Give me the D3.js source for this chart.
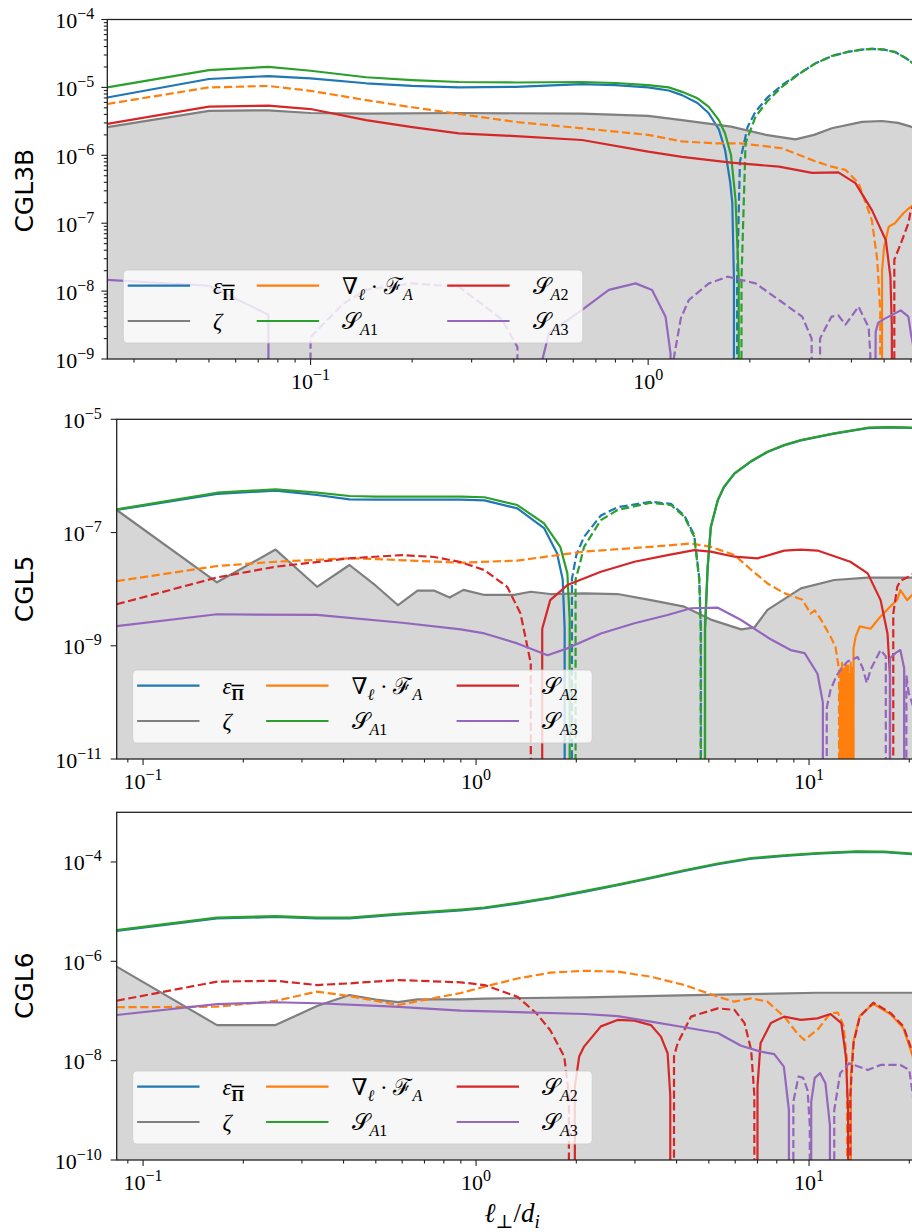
<!DOCTYPE html>
<html><head><meta charset="utf-8">
<script src="https://cdn.jsdelivr.net/npm/d3@7"></script>
<style>body{margin:0;background:#fff}svg{display:block}</style>
</head><body>
<svg id="c" width="912" height="1232"></svg>
<script>
// ---------------- DATA (ℓ⊥/d_i, signed value; negative values drawn dashed as |value|) -------------
const panelNames = ['CGL3B', 'CGL5', 'CGL6'];
const seriesKeys = ['eps', 'zeta', 'div', 'sa1', 'sa2', 'sa3'];

// Panel 1: CGL3B
const p1_xDomain = [0.025, 6.1];
const p1_yDomain = [1e-9, 1e-4];
const p1_xTickExp = [-1, 0];
const p1_yTickExp = [-4, -5, -6, -7, -8, -9];
const p1_eps = [[0.025,7.1e-6],[0.05,1.33e-5],[0.075,1.47e-5],[0.1,1.36e-5],[0.146,1.15e-5],[0.2,1.05e-5],[0.275,1.0e-5],[0.405,1.02e-5],[0.637,1.12e-5],[0.8,1.08e-5],[1.0,1.0e-5],[1.15,9.0e-6],[1.26,7.7e-6],[1.4,5.9e-6],[1.51,4.2e-6],[1.62,2.4e-6],[1.69,1.2e-6],[1.75,4e-7],[1.775,2e-7],[1.795,1.5e-8],[1.835,-1.5e-8],[1.87,-8e-7],[1.97,-2.6e-6],[2.08,-4.4e-6],[2.25,-7e-6],[2.49,-1.08e-5],[2.8,-1.6e-5],[3.13,-2.26e-5],[3.5,-2.9e-5],[3.93,-3.36e-5],[4.3,-3.6e-5],[4.6,-3.7e-5],[5.0,-3.6e-5],[5.4,-3.3e-5],[5.8,-2.7e-5],[6.2,-2.1e-5]];
const p1_zeta = [[0.025,2.6e-6],[0.05,4.5e-6],[0.075,4.6e-6],[0.1,4.2e-6],[0.146,4.1e-6],[0.275,4.2e-6],[0.637,4.1e-6],[1.0,3.8e-6],[1.26,3.3e-6],[1.76,2.64e-6],[2.23,2.0e-6],[2.73,1.72e-6],[3.1,2.0e-6],[3.5,2.5e-6],[4.3,3.1e-6],[4.93,3.2e-6],[5.5,3.0e-6],[6.0,2.64e-6],[6.2,2.5e-6]];
const p1_div = [[0.025,-5.7e-6],[0.05,-1.0e-5],[0.075,-1.05e-5],[0.1,-8.9e-6],[0.146,-6.5e-6],[0.2,-5.1e-6],[0.275,-4.06e-6],[0.405,-3.1e-6],[0.637,-2.5e-6],[1.0,-2.0e-6],[1.26,-1.6e-6],[1.58,-1.5e-6],[1.88,-1.5e-6],[2.49,-1.27e-6],[3.06,-8.5e-7],[3.5,-6.8e-7],[3.84,-6.1e-7],[4.2,-3.9e-7],[4.6,-1.1e-7],[4.77,-2.9e-8],[4.87,-5e-9],[4.93,2e-8],[5.0,4.5e-8],[5.16,8.9e-8],[5.38,1.0e-7],[5.7,1.4e-7],[6.0,1.75e-7],[6.2,1.9e-7]];
const p1_sa1 = [[0.025,1.0e-5],[0.05,1.8e-5],[0.075,2.0e-5],[0.1,1.76e-5],[0.146,1.41e-5],[0.2,1.28e-5],[0.275,1.2e-5],[0.405,1.18e-5],[0.637,1.2e-5],[0.8,1.16e-5],[1.0,1.08e-5],[1.15,1.0e-5],[1.26,8.6e-6],[1.4,6.9e-6],[1.51,5.2e-6],[1.62,3.3e-6],[1.69,2.1e-6],[1.76,1.0e-6],[1.815,2.2e-7],[1.855,1.5e-8],[1.89,-1.5e-8],[1.943,-1.5e-6],[2.08,-3.7e-6],[2.25,-6.2e-6],[2.49,-1.02e-5],[2.8,-1.58e-5],[3.13,-2.26e-5],[3.5,-2.9e-5],[3.93,-3.36e-5],[4.3,-3.6e-5],[4.6,-3.7e-5],[5.0,-3.6e-5],[5.4,-3.3e-5],[5.8,-2.7e-5],[6.2,-2.1e-5]];
const p1_sa2 = [[0.025,2.9e-6],[0.05,5.2e-6],[0.075,5.4e-6],[0.1,4.8e-6],[0.146,3.3e-6],[0.2,2.6e-6],[0.275,2.1e-6],[0.405,1.92e-6],[0.637,1.68e-6],[1.0,1.13e-6],[1.26,9.5e-7],[1.76,7.8e-7],[2.44,6.8e-7],[3.06,5.5e-7],[3.66,5.6e-7],[4.11,3.9e-7],[4.6,1.56e-7],[5.06,5.6e-8],[5.22,1.6e-8],[5.27,3e-9],[5.3,0],[5.36,-2.9e-8],[5.6,-5e-8],[5.9,-1e-7],[6.0,-1.56e-7],[6.2,-2e-7]];
const p1_sa3 = [[0.025,1.46e-8],[0.05,1.2e-8],[0.075,4.5e-9],[0.1,-2.1e-9],[0.125,-6.5e-9],[0.146,-1.05e-8],[0.2,-1.3e-8],[0.275,-1.16e-8],[0.32,-6.6e-9],[0.37,-3.75e-9],[0.41,-1.5e-9],[0.42,1e-10],[0.4745,6e-10],[0.508,2.4e-9],[0.637,5.3e-9],[0.765,1.04e-8],[0.918,1.3e-8],[1.027,1.04e-8],[1.126,4.2e-9],[1.165,1.2e-9],[1.19,-1e-9],[1.25,-4e-9],[1.32,-7.4e-9],[1.513,-1.3e-8],[1.72,-1.63e-8],[2.08,-1.3e-8],[2.44,-7.4e-9],[2.86,-4.2e-9],[3.05,-2e-9],[3.08,1e-10],[3.2,1e-10],[3.23,-2e-9],[3.49,-4.2e-9],[3.66,-4.4e-9],[3.84,-3.2e-9],[4.2,-5.9e-9],[4.5,-2.9e-9],[4.55,-1.2e-9],[4.58,1e-10],[4.7,1e-10],[4.72,2.5e-9],[4.8,3.4e-9],[4.96,3.8e-9],[5.6,5.2e-9],[5.9,4.2e-9],[6.0,2.4e-9],[6.2,1e-9]];

// Panel 2: CGL5
const p2_xDomain = [1/12, 20.6];
const p2_yDomain = [1e-11, 1e-5];
const p2_xTickExp = [-1, 0, 1];
const p2_yTickExp = [-5, -7, -9, -11];
const p2_eps = [[0.0833,2.5e-7],[0.1667,4.8e-7],[0.25,5.5e-7],[0.333,4.6e-7],[0.4167,3.85e-7],[0.5,3.8e-7],[0.9,3.8e-7],[1.06,3.7e-7],[1.33,2.67e-7],[1.6,1.2e-7],[1.75,4.3e-8],[1.82,1.5e-8],[1.845,2e-9],[1.9,0],[1.94,-1.5e-8],[2.0,-4e-8],[2.11,-8.4e-8],[2.37,-2.0e-7],[2.66,-2.8e-7],[3.35,-3.5e-7],[3.85,-3.2e-7],[4.22,-2.0e-7],[4.52,-9e-8],[4.68,-1.6e-8],[4.73,-2e-9],[4.8,0],[4.87,2e-9],[4.96,2.4e-8],[5.07,1.25e-7],[5.32,3.7e-7],[5.55,6.3e-7],[5.97,1.1e-6],[6.7,1.8e-6],[7.5,2.65e-6],[8.4,3.45e-6],[9.45,4.25e-6],[11.9,5.6e-6],[15.0,7.0e-6],[17.5,7.2e-6],[20.6,7.0e-6]];
const p2_zeta = [[0.0833,2.5e-7],[0.1667,1.32e-8],[0.25,5.0e-8],[0.333,1.1e-8],[0.4167,2.67e-8],[0.5,1.15e-8],[0.583,5.2e-9],[0.667,9.4e-9],[0.75,9.4e-9],[0.833,7.1e-9],[0.917,9.7e-9],[1.06,7.9e-9],[1.3,7.9e-9],[1.46,9.0e-9],[1.67,8.2e-9],[2.11,8.4e-9],[2.66,8.2e-9],[3.35,6.4e-9],[4.22,4.9e-9],[5.07,2.9e-9],[6.25,1.95e-9],[6.85,2.1e-9],[7.5,4.3e-9],[9.45,1.03e-8],[11.9,1.45e-8],[15.0,1.6e-8],[20.6,1.6e-8]];
const p2_div = [[0.0833,-1.39e-8],[0.1667,-2.56e-8],[0.25,-3.05e-8],[0.4167,-3.5e-8],[0.5,-3.4e-8],[0.9,-2.93e-8],[1.33,-3.2e-8],[2.11,-4.6e-8],[3.35,-5.6e-8],[4.42,-6.4e-8],[5.07,-5.6e-8],[5.97,-4.0e-8],[6.7,-2.2e-8],[7.5,-1.26e-8],[8.42,-8.5e-9],[9.55,-6.5e-9],[10.1,-3.7e-9],[10.4,-4.2e-9],[10.8,-3.05e-9],[11.6,-1.45e-9],[12.0,-9.6e-10],[12.3,-3.8e-10],[12.38,2e-10],[12.44,-4e-10],[12.5,3e-10],[12.56,-5e-10],[12.62,2.5e-10],[12.68,-3e-10],[12.74,4e-10],[12.8,-2e-10],[12.86,3.5e-10],[12.92,-4.5e-10],[12.98,2e-10],[13.04,-3e-10],[13.1,4.5e-10],[13.16,-2.5e-10],[13.22,3e-10],[13.28,-3.5e-10],[13.34,5e-10],[13.4,-2e-10],[13.46,4e-10],[13.52,-1.5e-10],[13.6,9e-10],[13.8,1.45e-9],[14.2,2.2e-9],[15.3,2.0e-9],[16.4,3.3e-9],[17.5,4.9e-9],[18.4,6.5e-9],[18.8,9.6e-9],[19.7,6.4e-9],[20.6,8.4e-9]];
const p2_sa1 = [[0.0833,2.56e-7],[0.1667,5.05e-7],[0.25,5.8e-7],[0.333,5.06e-7],[0.4167,4.42e-7],[0.5,4.3e-7],[0.9,4.3e-7],[1.06,4.2e-7],[1.33,3.06e-7],[1.6,1.45e-7],[1.79,5.6e-8],[1.88,1.9e-8],[1.91,3e-9],[1.95,0],[1.99,-1.5e-8],[2.04,-2.5e-8],[2.11,-5.6e-8],[2.37,-1.66e-7],[2.66,-2.5e-7],[3.35,-3.36e-7],[3.85,-3.06e-7],[4.22,-1.9e-7],[4.52,-8.4e-8],[4.68,-1.45e-8],[4.73,-2e-9],[4.8,0],[4.87,2e-9],[4.96,2.5e-8],[5.07,1.27e-7],[5.32,3.75e-7],[5.55,6.4e-7],[5.97,1.11e-6],[6.7,1.83e-6],[7.5,2.68e-6],[8.4,3.5e-6],[9.45,4.3e-6],[11.9,5.66e-6],[15.0,7.1e-6],[17.5,7.3e-6],[20.6,7.1e-6]];
const p2_sa2 = [[0.0833,-5.4e-9],[0.1667,-1.61e-8],[0.25,-2.49e-8],[0.4167,-3.5e-8],[0.6,-4.0e-8],[0.75,-3.7e-8],[0.9,-3.0e-8],[1.06,-2.17e-8],[1.24,-1.1e-8],[1.36,-3.7e-9],[1.46,-4.9e-10],[1.5,0],[1.575,0],[1.58,2.0e-9],[1.67,6.4e-9],[1.88,1.18e-8],[2.37,2.03e-8],[2.99,3.05e-8],[3.76,4.0e-8],[4.52,4.9e-8],[5.07,4.6e-8],[5.97,3.74e-8],[7.0,3.5e-8],[8.42,4.8e-8],[9.45,5.0e-8],[10.6,4.8e-8],[13.3,3.05e-8],[15.0,1.9e-8],[16.4,6.4e-9],[17.2,1.65e-9],[17.5,3e-10],[17.6,0],[17.85,0],[17.9,-3.7e-9],[18.4,-1.1e-8],[18.8,-1.4e-8],[19.7,-1.6e-8],[20.6,-1.9e-8]];
const p2_sa3 = [[0.0833,2.23e-9],[0.1667,3.6e-9],[0.333,3.5e-9],[0.6,2.55e-9],[0.9,1.95e-9],[1.06,1.65e-9],[1.33,1.1e-9],[1.64,6.8e-10],[1.88,9e-10],[2.37,1.65e-9],[2.99,2.5e-9],[3.76,3.5e-9],[4.42,4.6e-9],[5.32,4.7e-9],[6.25,2.85e-9],[7.67,1.3e-9],[8.8,8.4e-10],[9.7,7.4e-10],[10.6,3.2e-10],[11.0,1e-10],[11.1,0],[11.25,0],[11.3,-8e-11],[11.6,-1.66e-10],[12.1,-3.0e-10],[13.0,-5.2e-10],[14.0,-6.3e-10],[14.5,-4e-10],[14.9,-2.2e-10],[15.3,-3.8e-10],[16.4,-8.4e-10],[17.0,-6.5e-10],[17.3,0],[17.5,6.0e-10],[18.2,7.5e-10],[18.8,8.4e-10],[19.3,4e-10],[19.5,0],[19.6,-3e-10],[19.9,-1.5e-10],[20.6,-8e-11]];

// Panel 3: CGL6
const p3_xDomain = [1/12, 20.6];
const p3_yDomain = [1e-10, 1e-3];
const p3_xTickExp = [-1, 0, 1];
const p3_yTickExp = [-4, -6, -8, -10];
const p3_eps = [[0.0833,4.1e-6],[0.1667,7.3e-6],[0.25,7.8e-6],[0.333,7.3e-6],[0.4167,7.3e-6],[0.567,8.6e-6],[0.9,1.06e-5],[1.06,1.17e-5],[1.33,1.45e-5],[1.67,1.86e-5],[2.11,2.5e-5],[2.66,3.4e-5],[3.35,4.7e-5],[4.22,6.6e-5],[5.32,9.0e-5],[6.7,1.16e-4],[8.42,1.32e-4],[10.6,1.47e-4],[13.9,1.59e-4],[16.8,1.57e-4],[20.6,1.43e-4]];
const p3_zeta = [[0.0833,7.8e-7],[0.1667,5.2e-8],[0.25,5.2e-8],[0.333,1.26e-7],[0.4167,2.1e-7],[0.5,1.7e-7],[0.583,1.51e-7],[0.667,1.72e-7],[0.9,1.72e-7],[1.06,1.78e-7],[2.11,1.88e-7],[5.32,2.13e-7],[10.6,2.33e-7],[20.6,2.33e-7]];
const p3_div = [[0.0833,-1.19e-7],[0.1667,-1.22e-7],[0.25,-1.6e-7],[0.333,-2.45e-7],[0.4167,-2.0e-7],[0.583,-1.32e-7],[0.9,-2.3e-7],[1.06,-3.08e-7],[1.33,-4.5e-7],[1.67,-5.9e-7],[2.11,-6.45e-7],[2.66,-6.2e-7],[3.35,-4.9e-7],[4.22,-3.33e-7],[5.32,-1.94e-7],[5.97,-1.54e-7],[6.7,-1.8e-7],[7.5,-1.54e-7],[8.42,-7.7e-8],[9.2,-3.6e-8],[9.67,-2.6e-8],[10.6,-4.2e-8],[11.6,-9e-8],[12.2,-9.3e-8],[12.7,-5e-8],[13.0,-1e-8],[13.1,0],[13.3,0],[13.35,5e-9],[13.6,2.5e-8],[14.2,8e-8],[15.6,1.4e-7],[17.6,8.5e-8],[19.2,4.5e-8],[20.5,1.2e-8],[20.8,3e-9]];
const p3_sa1 = [[0.0833,4.24e-6],[0.1667,7.6e-6],[0.25,8.1e-6],[0.333,7.6e-6],[0.4167,7.6e-6],[0.567,8.9e-6],[0.9,1.1e-5],[1.06,1.21e-5],[1.33,1.5e-5],[1.67,1.92e-5],[2.11,2.58e-5],[2.66,3.5e-5],[3.35,4.85e-5],[4.22,6.8e-5],[5.32,9.3e-5],[6.7,1.2e-4],[8.42,1.36e-4],[10.6,1.51e-4],[13.9,1.64e-4],[16.8,1.62e-4],[20.6,1.47e-4]];
const p3_sa2 = [[0.0833,-1.61e-7],[0.1667,-3.9e-7],[0.25,-4.06e-7],[0.333,-3.33e-7],[0.4167,-3.6e-7],[0.583,-4.2e-7],[0.9,-3.77e-7],[1.06,-3.33e-7],[1.33,-1.94e-7],[1.52,-8.9e-8],[1.67,-4.1e-8],[1.84,-1.21e-8],[1.9,-2e-9],[1.93,0],[1.975,0],[1.98,3e-9],[2.04,1.21e-8],[2.11,1.92e-8],[2.37,4.9e-8],[2.66,6.6e-8],[2.99,6.4e-8],[3.35,5.2e-8],[3.59,3.05e-8],[3.76,1.41e-8],[3.83,2e-9],[3.86,0],[3.92,0],[3.93,-1.21e-8],[4.03,-2.24e-8],[4.42,-7.7e-8],[5.32,-1.13e-7],[5.97,-1.05e-7],[6.4,-5.7e-8],[6.7,-1.65e-8],[6.85,-2e-9],[6.9,0],[6.98,0],[7.0,3e-9],[7.15,2.24e-8],[7.68,5.7e-8],[8.42,7.7e-8],[9.45,6.6e-8],[10.6,7.1e-8],[11.6,8.7e-8],[12.5,5.7e-8],[12.9,1.21e-8],[13.1,1e-9],[13.15,0],[13.25,0],[13.3,-2e-9],[13.6,-2.24e-8],[14.2,-7.7e-8],[15.6,-1.47e-7],[17.6,-9e-8],[19.2,-4.9e-8],[20.5,-1.41e-8],[20.8,-3e-9]];
const p3_sa3 = [[0.0833,8.3e-8],[0.1667,1.38e-7],[0.25,1.5e-7],[0.333,1.43e-7],[0.567,1.22e-7],[0.9,1.02e-7],[1.33,9.5e-8],[2.11,8.7e-8],[2.66,7.9e-8],[3.35,6.1e-8],[4.22,4.7e-8],[5.32,3.6e-8],[6.25,2.0e-8],[7.16,1.52e-8],[7.86,1.35e-8],[8.4,7.6e-9],[8.7,1e-9],[8.8,0],[8.9,0],[8.97,-1.5e-9],[9.3,-4.8e-9],[9.6,-4.5e-9],[9.9,-2.5e-9],[10.05,-5e-10],[10.08,0],[10.12,0],[10.15,1.5e-9],[10.4,4.5e-9],[10.8,5.6e-9],[11.2,3.5e-9],[11.55,5e-10],[11.6,0],[11.8,0],[11.9,-1e-9],[12.4,-5.6e-9],[13.2,-8.9e-9],[15.0,-6.5e-9],[16.4,-8.2e-9],[18.8,-8.2e-9],[20.0,-6.5e-9],[20.5,-2e-9],[20.8,-5e-10]];

// ---------------- STYLE / LAYOUT -------------
const colors = {eps:'#1f77b4', zeta:'#7f7f7f', div:'#ff7f0e', sa1:'#2ca02c', sa2:'#d62728', sa3:'#9467bd'};
const FILL = '#d6d6d6';
const LW = 2.2;
const DASH = '8.2,3.6';
const TINY = 1e-300;
const SERIF = "'Liberation Serif','DejaVu Serif',serif";
const layout = [
  {left:107.3, top:19.5, bottom:359, ppd:337.6, labelY:190.7, gap:13, minorY:true},
  {left:116.7, top:419.3, bottom:759, ppd:333, labelY:589, gap:15, minorY:false},
  {left:116.7, top:812.3, bottom:1160, ppd:333, labelY:985.7, gap:15, minorY:false}
];
const panels = [
  {xDomain:p1_xDomain, yDomain:p1_yDomain, xt:p1_xTickExp, yt:p1_yTickExp, series:{eps:p1_eps, zeta:p1_zeta, div:p1_div, sa1:p1_sa1, sa2:p1_sa2, sa3:p1_sa3}},
  {xDomain:p2_xDomain, yDomain:p2_yDomain, xt:p2_xTickExp, yt:p2_yTickExp, series:{eps:p2_eps, zeta:p2_zeta, div:p2_div, sa1:p2_sa1, sa2:p2_sa2, sa3:p2_sa3}},
  {xDomain:p3_xDomain, yDomain:p3_yDomain, xt:p3_xTickExp, yt:p3_yTickExp, series:{eps:p3_eps, zeta:p3_zeta, div:p3_div, sa1:p3_sa1, sa2:p3_sa2, sa3:p3_sa3}}
];
// legend labels as rich-text parts: [text, flags]
const legendLabels = {
  eps: [['ε','it'], ['Π','sub bold over']],
  zeta: [['ζ','it']],
  div: [['∇',''], ['ℓ','sub it'], [' · ',''], ['ℱ',''], ['A','sub it']],
  sa1: [['𝒮',''], ['A','sub it'], ['1','sub']],
  sa2: [['𝒮',''], ['A','sub it'], ['2','sub']],
  sa3: [['𝒮',''], ['A','sub it'], ['3','sub']]
};
const legendPos = {eps:[0,0], zeta:[0,1], div:[1,0], sa1:[1,1], sa2:[2,0], sa3:[2,1]};

const svg = d3.select('#c');

function rich(textSel, parts, fs, subFs, subDy) {
  let cur = 0;
  parts.forEach(([t, f]) => {
    const fl = f.split(' ');
    const isSub = fl.includes('sub');
    const target = isSub ? subDy : 0;
    const ts = textSel.append('tspan').text(t)
      .attr('dy', target - cur)
      .attr('font-size', isSub ? subFs : fs)
      .attr('font-style', fl.includes('it') ? 'italic' : 'normal')
      .attr('font-weight', fl.includes('bold') ? 'bold' : 'normal');
    if (fl.includes('over')) ts.attr('text-decoration', 'overline');
    cur = target;
  });
}

function supLabel(sel, exp, fs, supFs) {
  sel.append('tspan').text('10').attr('font-size', fs);
  sel.append('tspan').text(exp < 0 ? '\u2212' + (-exp) : String(exp)).attr('font-size', supFs).attr('dy', -9);
}

panels.forEach((P, i) => {
  const L = layout[i];
  const right = L.left + L.ppd * Math.log10(P.xDomain[1] / P.xDomain[0]);
  const x = d3.scaleLog().domain(P.xDomain).range([L.left, right]);
  const y = d3.scaleLog().domain(P.yDomain).range([L.bottom, L.top]);

  const clipId = 'clip' + i;
  svg.append('clipPath').attr('id', clipId).append('rect')
    .attr('x', L.left).attr('y', L.top).attr('width', right - L.left).attr('height', L.bottom - L.top);
  const plot = svg.append('g').attr('clip-path', `url(#${clipId})`);

  // shaded ζ area
  const area = d3.area().x(d => x(d[0])).y0(L.bottom).y1(d => y(Math.max(d[1], TINY)));
  plot.append('path').datum(P.series.zeta).attr('d', area).attr('fill', FILL);

  const line = d3.line().x(d => x(d[0])).y(d => y(d[1]));
  seriesKeys.forEach(k => {
    const data = P.series[k];
    const pos = data.map(d => [d[0], d[1] > 0 ? d[1] : TINY]);
    const neg = data.map(d => [d[0], d[1] < 0 ? -d[1] : TINY]);
    plot.append('path').attr('d', line(pos)).attr('fill', 'none')
      .attr('stroke', colors[k]).attr('stroke-width', LW).attr('stroke-linejoin', 'round');
    if (data.some(d => d[1] < 0)) {
      plot.append('path').attr('d', line(neg)).attr('fill', 'none')
        .attr('stroke', colors[k]).attr('stroke-width', LW).attr('stroke-linejoin', 'round')
        .attr('stroke-dasharray', DASH);
    }
  });

  // frame
  svg.append('rect').attr('x', L.left).attr('y', L.top).attr('width', right - L.left).attr('height', L.bottom - L.top)
    .attr('fill', 'none').attr('stroke', '#222').attr('stroke-width', 1.3);

  const ax = svg.append('g').attr('stroke', '#222').attr('stroke-width', 1.1);
  // x ticks
  const lx0 = Math.floor(Math.log10(P.xDomain[0])), lx1 = Math.ceil(Math.log10(P.xDomain[1]));
  for (let e = lx0; e <= lx1; e++) {
    for (let m = 1; m <= 9; m++) {
      const v = m * Math.pow(10, e);
      if (v < P.xDomain[0] * 0.999 || v > P.xDomain[1]) continue;
      const px = x(v);
      if (px > 912) continue;
      ax.append('line').attr('x1', px).attr('x2', px).attr('y1', L.bottom).attr('y2', L.bottom + (m === 1 ? 6 : 3.5));
    }
  }
  P.xt.forEach(e => {
    const t = svg.append('text').attr('x', x(Math.pow(10, e))).attr('y', L.bottom + 30)
      .attr('text-anchor', 'middle').attr('font-family', SERIF).attr('fill', '#000');
    supLabel(t, e, 22, 16);
  });
  // y ticks
  if (L.minorY) {
    const ly0 = Math.round(Math.log10(P.yDomain[0])), ly1 = Math.round(Math.log10(P.yDomain[1]));
    for (let e = ly0; e < ly1; e++) {
      for (let m = 2; m <= 9; m++) {
        const py = y(m * Math.pow(10, e));
        ax.append('line').attr('x1', L.left - 3.5).attr('x2', L.left).attr('y1', py).attr('y2', py);
      }
    }
  }
  P.yt.forEach(e => {
    const py = y(Math.pow(10, e));
    ax.append('line').attr('x1', L.left - 6).attr('x2', L.left).attr('y1', py).attr('y2', py);
    const t = svg.append('text').attr('x', L.left - L.gap).attr('y', py + 8.5)
      .attr('text-anchor', 'end').attr('font-family', SERIF).attr('fill', '#000');
    supLabel(t, e, 22, 16);
  });

  // y label
  svg.append('text').attr('transform', `translate(24,${L.labelY}) rotate(-90)`)
    .attr('text-anchor', 'middle').attr('dominant-baseline', 'central')
    .attr('font-family', "'DejaVu Sans',sans-serif").attr('font-size', 25).attr('fill', '#000')
    .text(panelNames[i]);

  // legend
  const bx = L.left + 16, bh = 73, by = L.bottom - 16 - bh, bw = 459.5;
  const lg = svg.append('g');
  lg.append('rect').attr('x', bx).attr('y', by).attr('width', bw).attr('height', bh).attr('rx', 4)
    .attr('fill', '#fff').attr('fill-opacity', 0.8).attr('stroke', '#cccccc').attr('stroke-opacity', 0.8).attr('stroke-width', 1);
  const colOff = [0, 129, 319.5];
  const rowY = [by + 15.7, by + 51];
  seriesKeys.forEach(k => {
    const [c, r] = legendPos[k];
    const hx = bx + 4.4 + colOff[c];
    lg.append('line').attr('x1', hx).attr('x2', hx + 62.4).attr('y1', rowY[r]).attr('y2', rowY[r])
      .attr('stroke', colors[k]).attr('stroke-width', LW);
    const t = lg.append('text').attr('x', hx + 62.4 + 23).attr('y', rowY[r] + 8)
      .attr('font-family', SERIF).attr('fill', '#000').style('white-space', 'pre');
    rich(t, legendLabels[k], 23, 16, 6);
  });
});

// x-axis label
const xl = svg.append('text').attr('x', 512).attr('y', 1222).attr('text-anchor', 'middle')
  .attr('font-family', SERIF).attr('fill', '#000').style('white-space', 'pre');
rich(xl, [['ℓ','it'], ['⊥','sub'], ['/',''], ['d','it'], ['i','sub it']], 27, 19, 6);
</script>
</body></html>
